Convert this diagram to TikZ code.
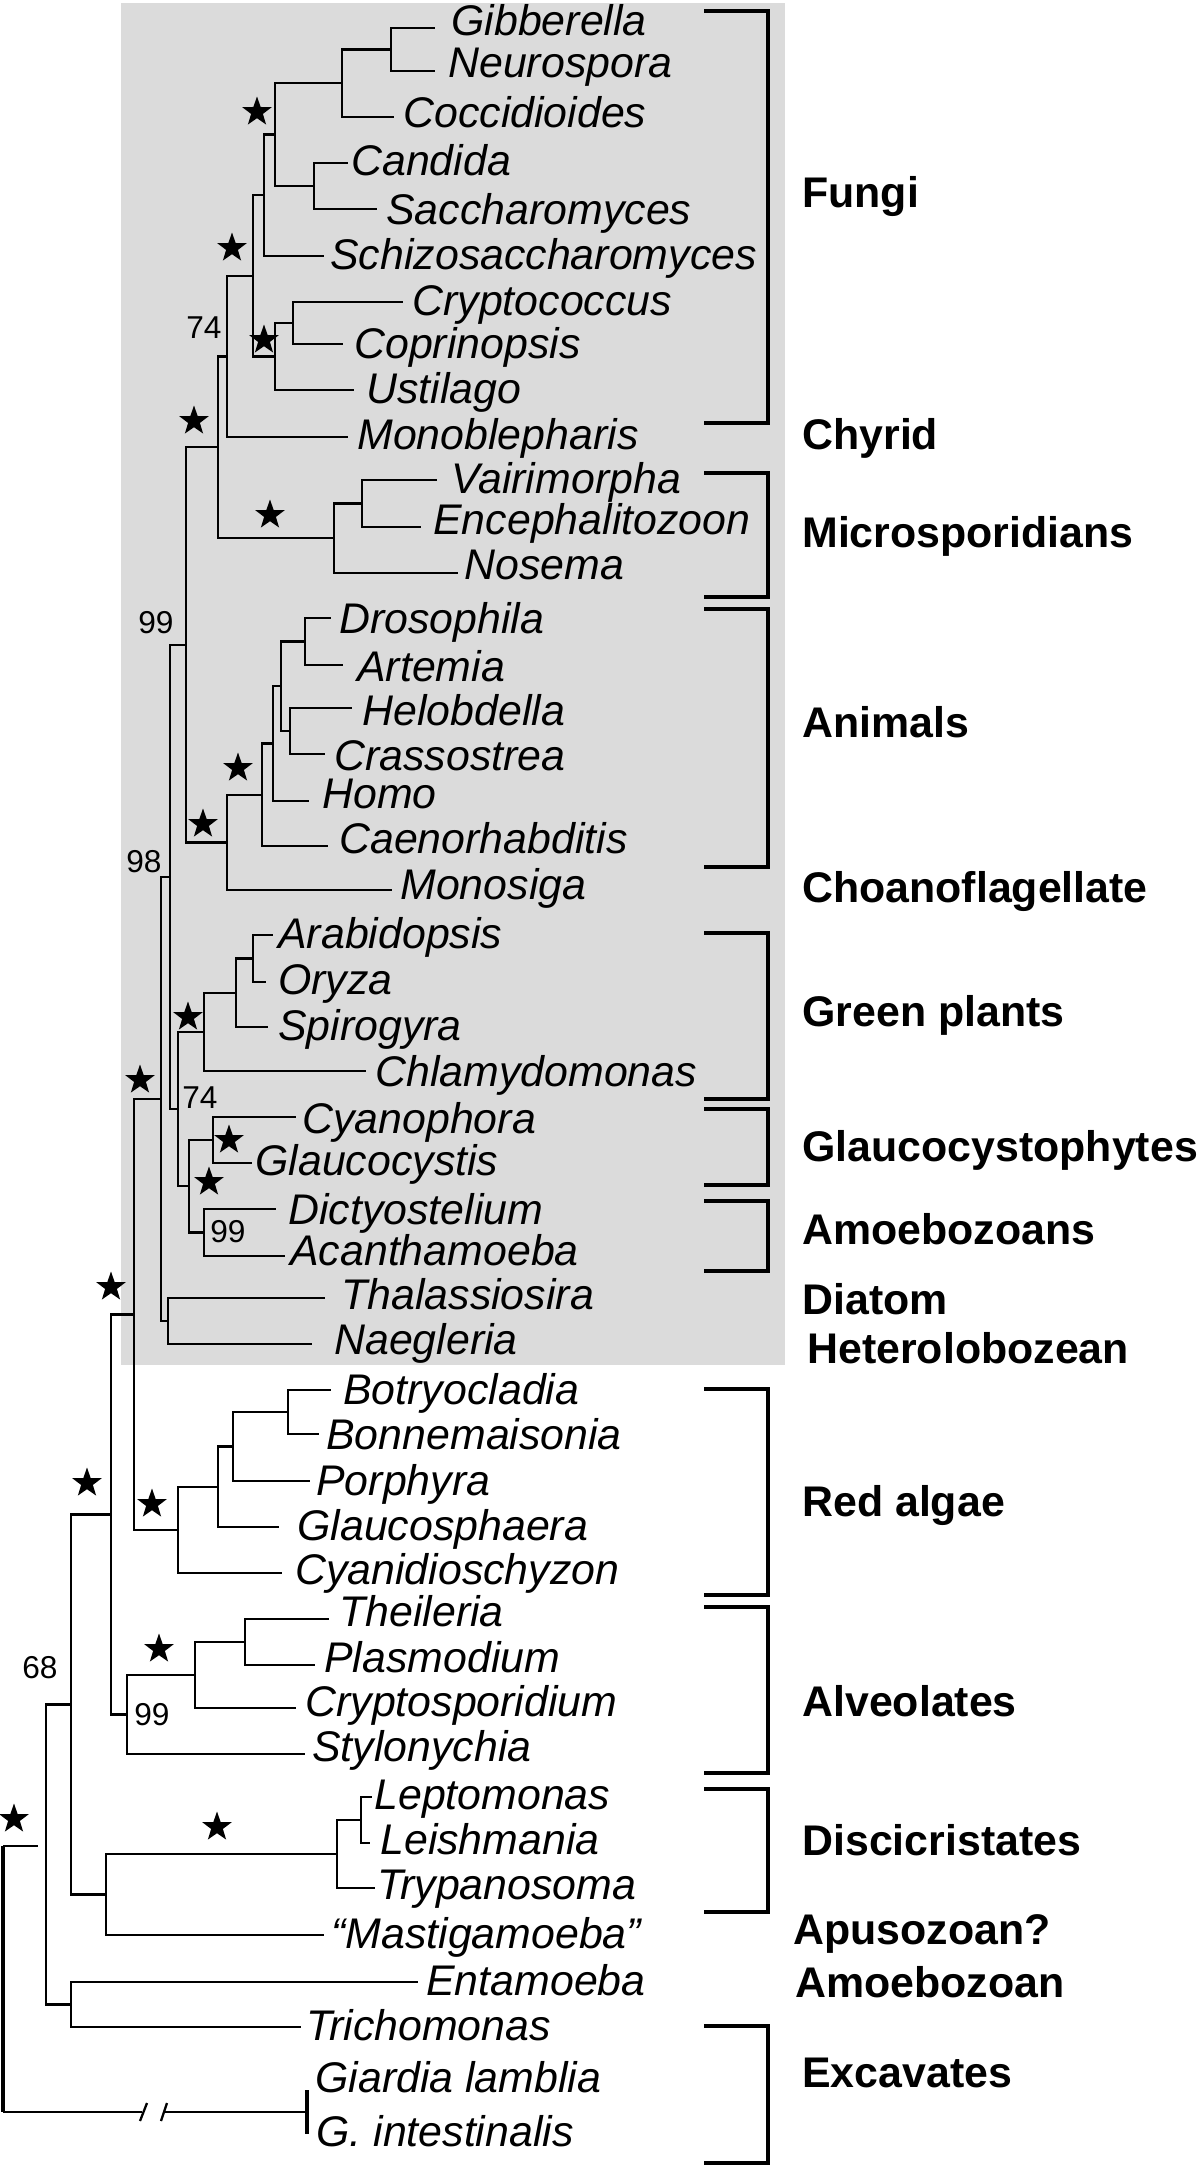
\documentclass[tikz,border=0pt]{standalone}
\usepackage{fontspec}
\setmainfont{Liberation Sans}
\usetikzlibrary{shapes.geometric}
\definecolor{boxgray}{gray}{0.86}

\begin{document}
\begin{tikzpicture}[x=0.02cm,y=-0.02cm,
  br/.style={line width=1.3pt},
  bkt/.style={line width=1.8pt},
  leaf/.style={anchor=west,inner sep=0pt,text height=0.72em,text depth=0pt,font=\fontsize{24.4}{26}\selectfont\itshape},
  grp/.style={anchor=west,inner sep=0pt,text height=0.72em,text depth=0pt,font=\fontsize{24.4}{26}\selectfont\bfseries},
  bsv/.style={inner sep=0pt,font=\fontsize{18}{20}\selectfont},
  sup/.style={star,star points=5,star point ratio=2.5,fill,inner sep=0pt,minimum size=0.62cm}]
  \useasboundingbox (0,0) rectangle (1200,2166);
  \fill[boxgray] (121,3) rectangle (785,1365);

  % leaves: tip of the branch, then the name
  \coordinate (gib-t) at (435,28);   \node[leaf] (gib) at (451,29) {Gibberella};
  \coordinate (neu-t) at (435,71);   \node[leaf] (neu) at (448,71) {Neurospora};
  \coordinate (coc-t) at (394,117);  \node[leaf] (coc) at (403,121) {Coccidioides};
  \coordinate (can-t) at (348,163);  \node[leaf] (can) at (351,169) {Candida};
  \coordinate (sac-t) at (377,209);  \node[leaf] (sac) at (386,218) {Saccharomyces};
  \coordinate (sch-t) at (324,256);  \node[leaf] (sch) at (330,263) {Schizosaccharomyces};
  \coordinate (cry-t) at (403,302);  \node[leaf] (cry) at (412,309) {Cryptococcus};
  \coordinate (cop-t) at (343,344);  \node[leaf] (cop) at (354,352) {Coprinopsis};
  \coordinate (ust-t) at (354,390);  \node[leaf] (ust) at (366,397) {Ustilago};
  \coordinate (mon-t) at (348,437);  \node[leaf] (mon) at (357,443) {Monoblepharis};
  \coordinate (vai-t) at (437,480);  \node[leaf] (vai) at (451,487) {Vairimorpha};
  \coordinate (enc-t) at (421,527);  \node[leaf] (enc) at (433,528) {Encephalitozoon};
  \coordinate (nos-t) at (458,573);  \node[leaf] (nos) at (464,573) {Nosema};
  \coordinate (dro-t) at (331,618);  \node[leaf] (dro) at (339,627) {Drosophila};
  \coordinate (art-t) at (343,665);  \node[leaf] (art) at (357,675) {Artemia};
  \coordinate (hel-t) at (352,708);  \node[leaf] (hel) at (362,719) {Helobdella};
  \coordinate (cra-t) at (325,754);  \node[leaf] (cra) at (334,764) {Crassostrea};
  \coordinate (hom-t) at (309,801);  \node[leaf] (hom) at (322,802) {Homo};
  \coordinate (cae-t) at (328,846);  \node[leaf] (cae) at (339,847) {Caenorhabditis};
  \coordinate (mns-t) at (392,890);  \node[leaf] (mns) at (400,893) {Monosiga};
  \coordinate (ara-t) at (273,935);  \node[leaf] (ara) at (278,942) {Arabidopsis};
  \coordinate (ory-t) at (266,982);  \node[leaf] (ory) at (278,988) {Oryza};
  \coordinate (spi-t) at (268,1027); \node[leaf] (spi) at (278,1034) {Spirogyra};
  \coordinate (chl-t) at (366,1071); \node[leaf] (chl) at (375,1080) {Chlamydomonas};
  \coordinate (cya-t) at (296,1117); \node[leaf] (cya) at (302,1127) {Cyanophora};
  \coordinate (gla-t) at (252,1163); \node[leaf] (gla) at (255,1169) {Glaucocystis};
  \coordinate (dic-t) at (276,1209); \node[leaf] (dic) at (288,1218) {Dictyostelium};
  \coordinate (aca-t) at (285,1256); \node[leaf] (aca) at (290,1259) {Acanthamoeba};
  \coordinate (tha-t) at (325,1298); \node[leaf] (tha) at (341,1303) {Thalassiosira};
  \coordinate (nae-t) at (312,1344); \node[leaf] (nae) at (334,1348) {Naegleria};
  \coordinate (bot-t) at (331,1390); \node[leaf] (bot) at (343,1398) {Botryocladia};
  \coordinate (bon-t) at (319,1434); \node[leaf] (bon) at (326,1443) {Bonnemaisonia};
  \coordinate (por-t) at (310,1481); \node[leaf] (por) at (316,1489) {Porphyra};
  \coordinate (gls-t) at (279,1527); \node[leaf] (gls) at (297,1534) {Glaucosphaera};
  \coordinate (cyd-t) at (282,1573); \node[leaf] (cyd) at (295,1578) {Cyanidioschyzon};
  \coordinate (the-t) at (329,1619); \node[leaf] (the) at (339,1620) {Theileria};
  \coordinate (pla-t) at (315,1665); \node[leaf] (pla) at (324,1666) {Plasmodium};
  \coordinate (crs-t) at (296,1708); \node[leaf] (crs) at (305,1710) {Cryptosporidium};
  \coordinate (sty-t) at (305,1754); \node[leaf] (sty) at (312,1755) {Stylonychia};
  \coordinate (lep-t) at (372,1797); \node[leaf] (lep) at (374,1803) {Leptomonas};
  \coordinate (lei-t) at (370,1843); \node[leaf] (lei) at (380,1848) {Leishmania};
  \coordinate (try-t) at (375,1888); \node[leaf] (try) at (377,1893) {Trypanosoma};
  \coordinate (mas-t) at (324,1935); \node[leaf] (mas) at (331,1942) {“Mastigamoeba”};
  \coordinate (ent-t) at (418,1982); \node[leaf] (ent) at (426,1989) {Entamoeba};
  \coordinate (tri-t) at (301,2027); \node[leaf] (tri) at (306,2034) {Trichomonas};
  \node[leaf] (gil) at (315,2086) {Giardia lamblia};
  \node[leaf] (gin) at (316,2140) {G. intestinalis};

  % inner nodes
  \coordinate (n1) at (391,49.5);
  \coordinate (n2) at (342,83);
  \coordinate (n3) at (314,186);
  \coordinate (n4) at (275,134.5);
  \coordinate (n5) at (264,195);
  \coordinate (n6) at (293,323);
  \coordinate (n7) at (275,356.5);
  \coordinate (n8) at (253,276);
  \coordinate (n9) at (227,356.5);
  \coordinate (n10) at (362,503.5);
  \coordinate (n11) at (334,538);
  \coordinate (n12) at (218,447);
  \coordinate (n13) at (305,641.5);
  \coordinate (n14) at (290,731);
  \coordinate (n15) at (281,686);
  \coordinate (n16) at (273,743.5);
  \coordinate (n17) at (262,794.7);
  \coordinate (n18) at (227,842.4);
  \coordinate (n19) at (186,644.7);
  \coordinate (n20) at (253,958.5);
  \coordinate (n21) at (236,992.7);
  \coordinate (n22) at (204,1031.9);
  \coordinate (n23) at (213,1140);
  \coordinate (n24) at (204,1232.5);
  \coordinate (n25) at (189,1186.2);
  \coordinate (n26) at (178,1109);
  \coordinate (n27) at (170,876.9);
  \coordinate (n28) at (168,1321);
  \coordinate (n29) at (161,1099);
  \coordinate (n30) at (288,1412);
  \coordinate (n31) at (233,1446.5);
  \coordinate (n32) at (218,1486.7);
  \coordinate (n33) at (178,1529.9);
  \coordinate (n34) at (134,1314.5);
  \coordinate (n35) at (245,1642);
  \coordinate (n36) at (195,1675);
  \coordinate (n37) at (127,1714.5);
  \coordinate (n38) at (111,1514.5);
  \coordinate (n39) at (361,1820);
  \coordinate (n40) at (337,1854);
  \coordinate (n41) at (106,1894.5);
  \coordinate (n42) at (71,1704.5);
  \coordinate (n43) at (71,2004.5);
  \coordinate (n44) at (46,1854.5);

  % branches
  \draw[br] (n1) |- (gib-t) (n1) |- (neu-t);
  \draw[br] (n2) |- (n1) (n2) |- (coc-t);
  \draw[br] (n3) |- (can-t) (n3) |- (sac-t);
  \draw[br] (n4) |- (n2) (n4) |- (n3);
  \draw[br] (n5) |- (n4) (n5) |- (sch-t);
  \draw[br] (n6) |- (cry-t) (n6) |- (cop-t);
  \draw[br] (n7) |- (n6) (n7) |- (ust-t);
  \draw[br] (n8) |- (n5) (n8) |- (n7);
  \draw[br] (n9) |- (n8) (n9) |- (mon-t);
  \draw[br] (n10) |- (vai-t) (n10) |- (enc-t);
  \draw[br] (n11) |- (n10) (n11) |- (nos-t);
  \draw[br] (n12) |- (n9) (n12) |- (n11);
  \draw[br] (n13) |- (dro-t) (n13) |- (art-t);
  \draw[br] (n14) |- (hel-t) (n14) |- (cra-t);
  \draw[br] (n15) |- (n13) (n15) |- (n14);
  \draw[br] (n16) |- (n15) (n16) |- (hom-t);
  \draw[br] (n17) |- (n16) (n17) |- (cae-t);
  \draw[br] (n18) |- (n17) (n18) |- (mns-t);
  \draw[br] (n19) |- (n12) (n19) |- (n18);
  \draw[br] (n20) |- (ara-t) (n20) |- (ory-t);
  \draw[br] (n21) |- (n20) (n21) |- (spi-t);
  \draw[br] (n22) |- (n21) (n22) |- (chl-t);
  \draw[br] (n23) |- (cya-t) (n23) |- (gla-t);
  \draw[br] (n24) |- (dic-t) (n24) |- (aca-t);
  \draw[br] (n25) |- (n23) (n25) |- (n24);
  \draw[br] (n26) |- (n22) (n26) |- (n25);
  \draw[br] (n27) |- (n19) (n27) |- (n26);
  \draw[br] (n28) |- (tha-t) (n28) |- (nae-t);
  \draw[br] (n29) |- (n27) (n29) |- (n28);
  \draw[br] (n30) |- (bot-t) (n30) |- (bon-t);
  \draw[br] (n31) |- (n30) (n31) |- (por-t);
  \draw[br] (n32) |- (n31) (n32) |- (gls-t);
  \draw[br] (n33) |- (n32) (n33) |- (cyd-t);
  \draw[br] (n34) |- (n29) (n34) |- (n33);
  \draw[br] (n35) |- (the-t) (n35) |- (pla-t);
  \draw[br] (n36) |- (n35) (n36) |- (crs-t);
  \draw[br] (n37) |- (n36) (n37) |- (sty-t);
  \draw[br] (n38) |- (n34) (n38) |- (n37);
  \draw[br] (n39) |- (lep-t) (n39) |- (lei-t);
  \draw[br] (n40) |- (n39) (n40) |- (try-t);
  \draw[br] (n41) |- (n40) (n41) |- (mas-t);
  \draw[br] (n42) |- (n38) (n42) |- (n41);
  \draw[br] (n43) |- (ent-t) (n43) |- (tri-t);
  \draw[br] (n44) |- (n42) (n44) |- (n43);

  % root and the broken Giardia branch
  \coordinate (root) at (3,1846);
  \coordinate (stub) at (38,1846);
  \coordinate (rootb) at (3,2112);
  \coordinate (cut1) at (142,2112);
  \coordinate (cut2) at (163,2112);
  \coordinate (gia) at (307,2112);
  \draw[br] (root) -- (stub);
  \draw[bkt] (root) -- (rootb);
  \draw[br] (rootb) -- (cut1);
  \draw[br] (cut2) -- (gia);
  \draw[br] (140,2121) -- (147,2103);
  \draw[br] (161,2121) -- (167,2103);
  \draw[bkt] (307,2090) -- (307,2134);

  % supported nodes
  \node[sup] (s1) at (257,112) {};
  \node[sup] (s2) at (232,248) {};
  \node[sup] (s3) at (264,340) {};
  \node[sup] (s4) at (194,421) {};
  \node[sup] (s5) at (270,515) {};
  \node[sup] (s6) at (238,768) {};
  \node[sup] (s7) at (203,824) {};
  \node[sup] (s8) at (188,1017) {};
  \node[sup] (s9) at (229,1140) {};
  \node[sup] (s10) at (209,1182) {};
  \node[sup] (s11) at (140,1080) {};
  \node[sup] (s12) at (111,1287) {};
  \node[sup] (s13) at (152,1504) {};
  \node[sup] (s14) at (87,1483) {};
  \node[sup] (s15) at (159,1649) {};
  \node[sup] (s16) at (217,1827) {};
  \node[sup] (s17) at (14,1819) {};

  % bootstrap values
  \node[bsv] (b1) at (204,328) {74};
  \node[bsv] (b2) at (156,623) {99};
  \node[bsv] (b3) at (144,862) {98};
  \node[bsv] (b4) at (200,1098) {74};
  \node[bsv] (b5) at (228,1232) {99};
  \node[bsv] (b6) at (152,1715) {99};
  \node[bsv] (b7) at (40,1668) {68};

  % brackets
  \draw[bkt] (704,11) -| (768,423) -- (704,423);
  \draw[bkt] (704,473) -| (768,597) -- (704,597);
  \draw[bkt] (704,609) -| (768,867) -- (704,867);
  \draw[bkt] (704,933) -| (768,1099) -- (704,1099);
  \draw[bkt] (704,1109) -| (768,1185) -- (704,1185);
  \draw[bkt] (704,1201) -| (768,1271) -- (704,1271);
  \draw[bkt] (704,1389) -| (768,1595) -- (704,1595);
  \draw[bkt] (704,1607) -| (768,1773) -- (704,1773);
  \draw[bkt] (704,1789) -| (768,1912) -- (704,1912);
  \draw[bkt] (704,2026) -| (768,2163) -- (704,2163);

  % groups
  \node[grp] (fun) at (802,201) {Fungi};
  \node[grp] (chy) at (802,443) {Chyrid};
  \node[grp] (mic) at (802,541) {Microsporidians};
  \node[grp] (ani) at (802,731) {Animals};
  \node[grp] (cho) at (802,896) {Choanoflagellate};
  \node[grp] (gre) at (802,1020) {Green plants};
  \node[grp] (glc) at (802,1155) {Glaucocystophytes};
  \node[grp] (amo) at (802,1238) {Amoebozoans};
  \node[grp] (dia) at (802,1308) {Diatom};
  \node[grp] (het) at (807,1357) {Heterolobozean};
  \node[grp] (red) at (802,1510) {Red algae};
  \node[grp] (alv) at (802,1710) {Alveolates};
  \node[grp] (dis) at (802,1849) {Discicristates};
  \node[grp] (apu) at (793,1938) {Apusozoan?};
  \node[grp] (amz) at (795,1991) {Amoebozoan};
  \node[grp] (exc) at (802,2081) {Excavates};
\end{tikzpicture}
\end{document}
